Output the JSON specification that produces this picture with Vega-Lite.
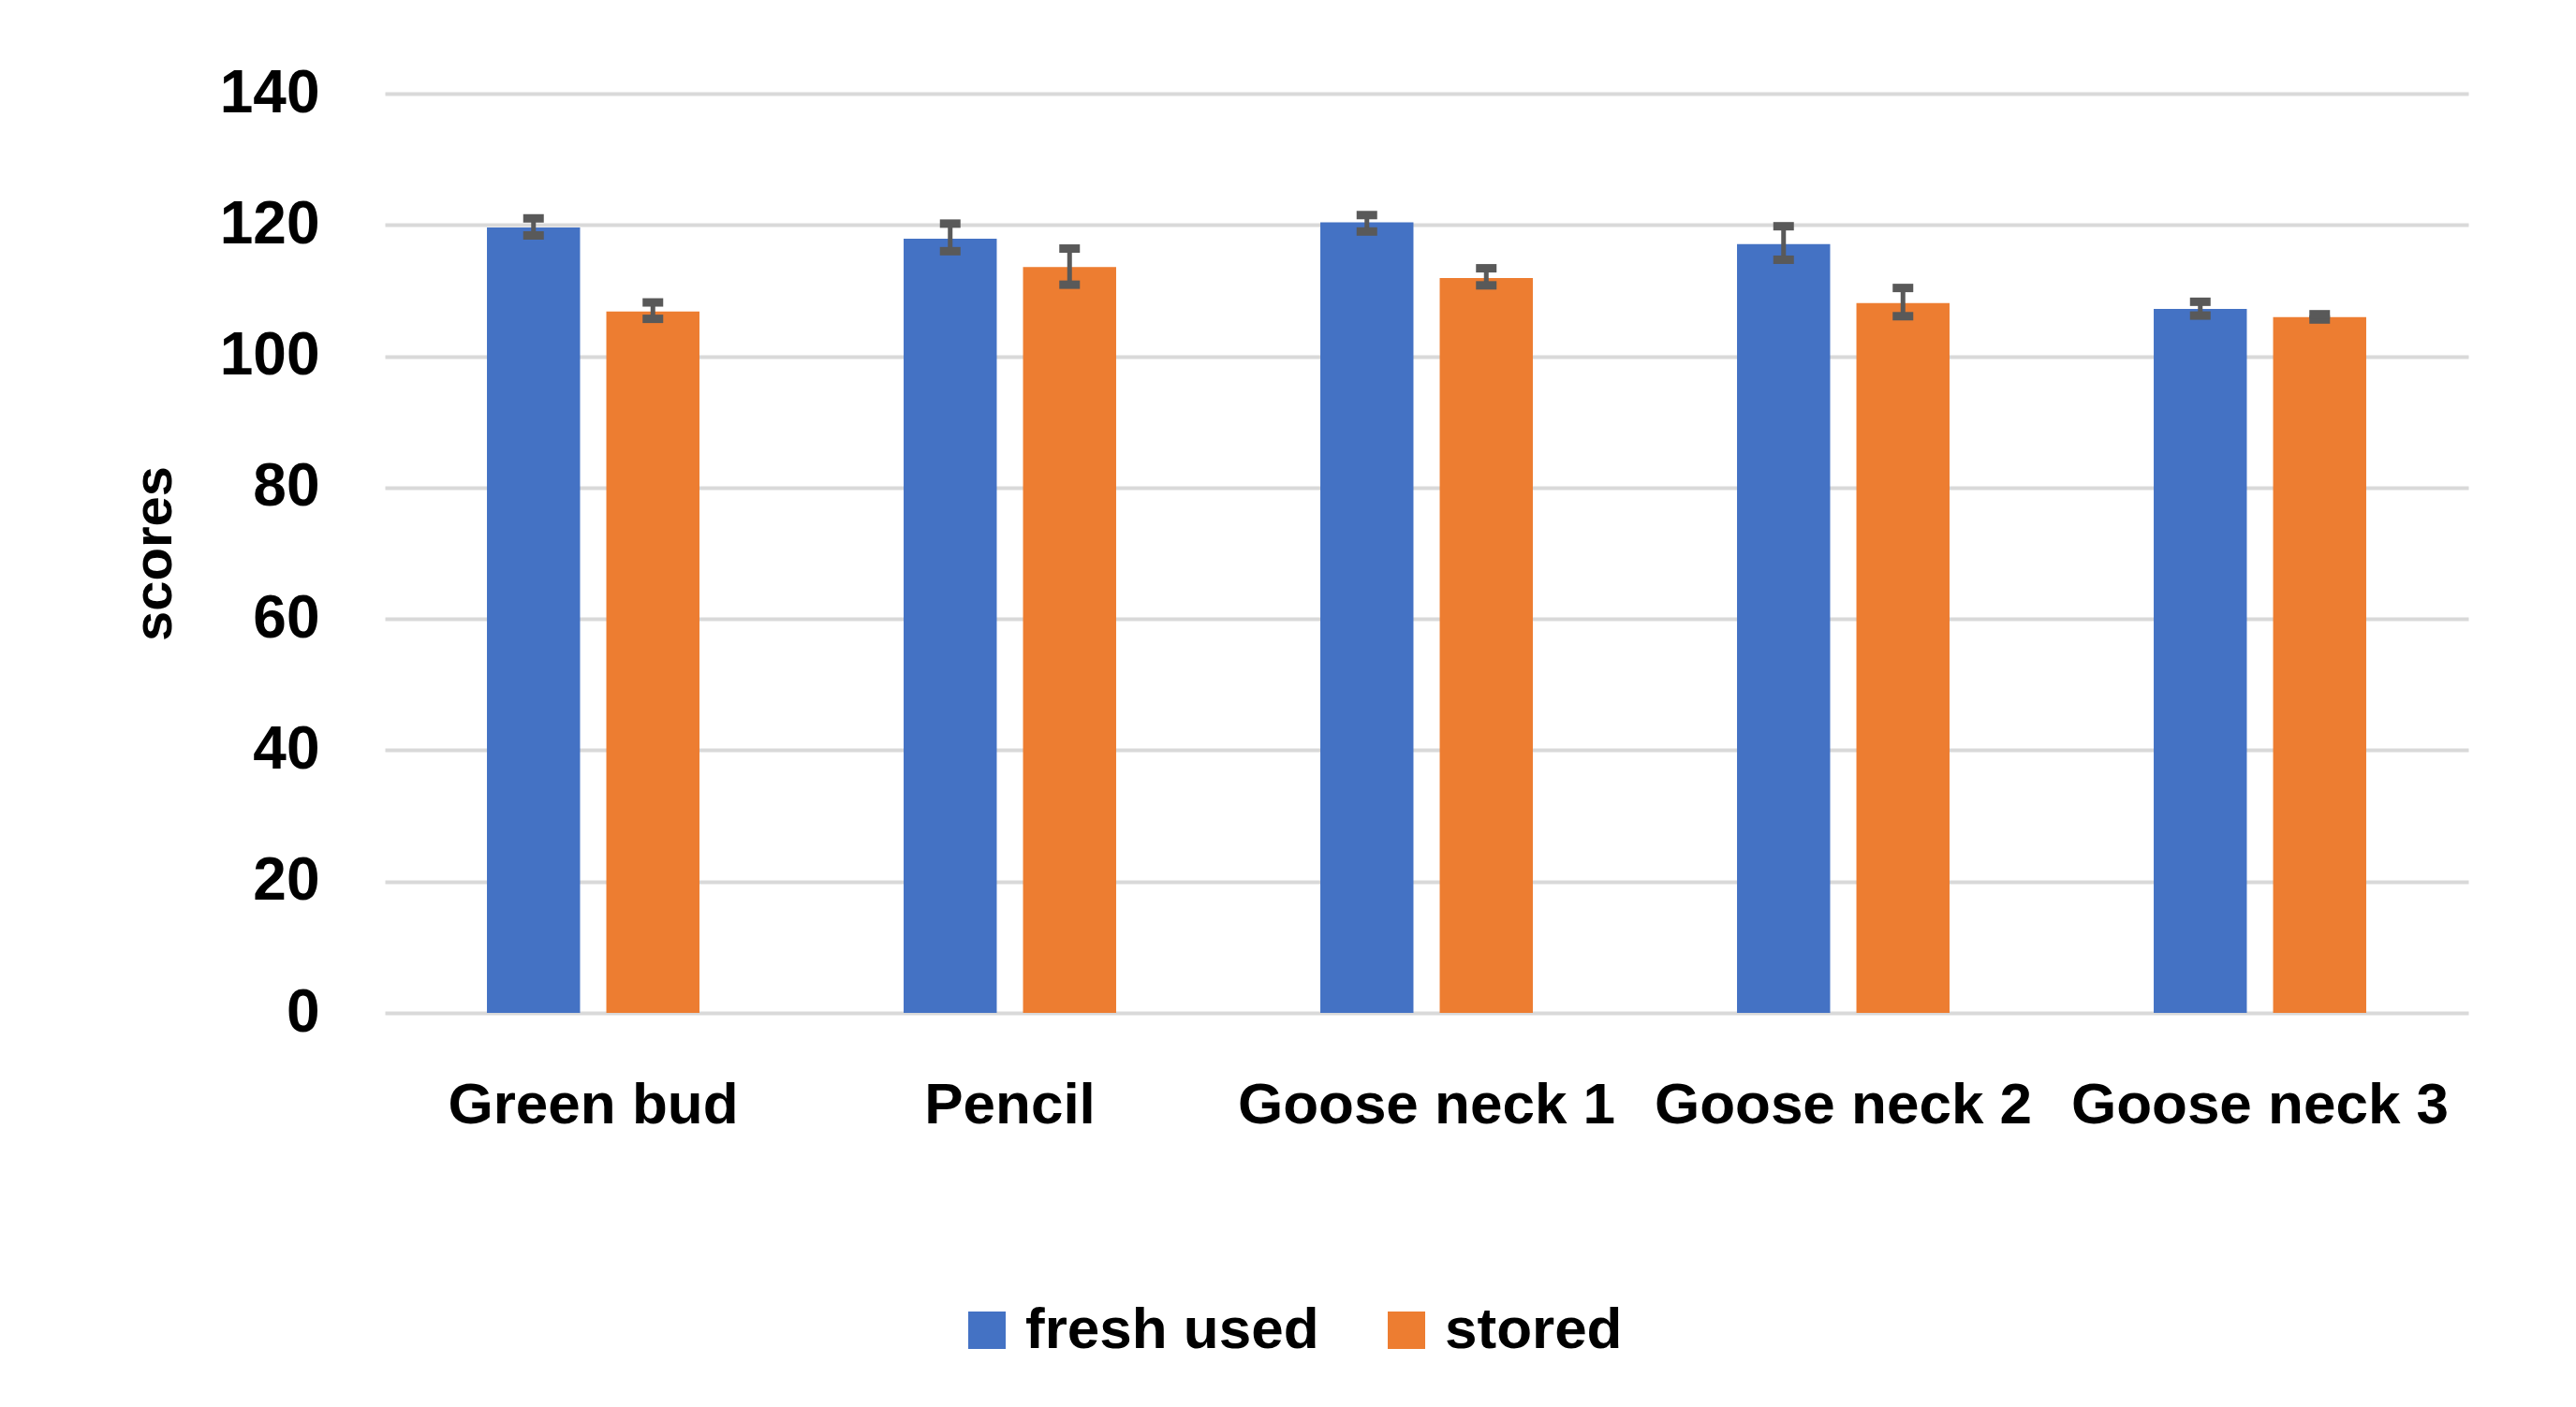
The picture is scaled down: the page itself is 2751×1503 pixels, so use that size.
{
  "$schema": "https://vega.github.io/schema/vega-lite/v6.json",
  "width": 2225,
  "height": 982,
  "autosize": {"type": "none"},
  "padding": {"left": 411, "top": 100, "right": 115, "bottom": 421},
  "background": "white",
  "config": {
    "view": {"stroke": null},
    "font": "Liberation Sans"
  },
  "data": {
    "values": [
      {"cat": "Green bud", "group": "fresh used", "value": 119.6, "lo": 118.4, "hi": 121.0},
      {"cat": "Green bud", "group": "stored", "value": 106.8, "lo": 105.7, "hi": 108.2},
      {"cat": "Pencil", "group": "fresh used", "value": 117.9, "lo": 116.0, "hi": 120.2},
      {"cat": "Pencil", "group": "stored", "value": 113.6, "lo": 110.9, "hi": 116.4},
      {"cat": "Goose neck 1", "group": "fresh used", "value": 120.4, "lo": 119.0, "hi": 121.5},
      {"cat": "Goose neck 1", "group": "stored", "value": 111.9, "lo": 110.8, "hi": 113.4},
      {"cat": "Goose neck 2", "group": "fresh used", "value": 117.1, "lo": 114.7, "hi": 119.8},
      {"cat": "Goose neck 2", "group": "stored", "value": 108.1, "lo": 106.1, "hi": 110.4},
      {"cat": "Goose neck 3", "group": "fresh used", "value": 107.2, "lo": 106.2, "hi": 108.3},
      {"cat": "Goose neck 3", "group": "stored", "value": 105.95, "lo": 105.6, "hi": 106.4}
    ]
  },
  "encoding": {
    "x": {
      "field": "cat",
      "type": "nominal",
      "sort": null,
      "scale": {"paddingInner": 0.49, "paddingOuter": 0.245},
      "axis": {
        "title": null,
        "labelAngle": 0,
        "labelFontSize": 62,
        "labelFontWeight": "bold",
        "labelColor": "#000000",
        "labelPadding": 68,
        "labelLimit": 1000,
        "ticks": false,
        "domain": false
      }
    },
    "xOffset": {
      "field": "group",
      "type": "nominal",
      "scale": {"paddingInner": 0.22, "paddingOuter": 0}
    }
  },
  "layer": [
    {
      "mark": {"type": "bar"},
      "encoding": {
        "y": {
          "field": "value",
          "type": "quantitative",
          "scale": {"domain": [0, 140], "nice": false},
          "axis": {
            "title": "scores",
            "titleFontSize": 58,
            "titleFontWeight": "bold",
            "titleColor": "#000000",
            "titlePadding": 40,
            "values": [0, 20, 40, 60, 80, 100, 120, 140],
            "labelFontSize": 64,
            "labelFontWeight": "bold",
            "labelColor": "#000000",
            "labelPadding": 70,
            "ticks": false,
            "domain": false,
            "gridColor": "#d9d9d9",
            "gridWidth": 4,
            "gridOpacity": 1
          }
        },
        "color": {
          "field": "group",
          "type": "nominal",
          "scale": {"domain": ["fresh used", "stored"], "range": ["#4472C4", "#ED7D31"]},
          "legend": {
            "title": null,
            "orient": "none",
            "direction": "horizontal",
            "legendX": 612,
            "legendY": 1290,
            "symbolType": "square",
            "symbolSize": 1600,
            "symbolStrokeWidth": 0,
            "labelFontSize": 62,
            "labelFontWeight": "bold",
            "labelColor": "#000000",
            "labelOffset": 10,
            "columnPadding": 62,
            "labelLimit": 1000
          }
        }
      }
    },
    {
      "mark": {"type": "rule", "color": "#595959", "strokeWidth": 5},
      "encoding": {
        "y": {"field": "lo", "type": "quantitative"},
        "y2": {"field": "hi"}
      }
    },
    {
      "mark": {"type": "tick", "color": "#595959", "size": 22, "thickness": 9, "opacity": 1},
      "encoding": {
        "y": {"field": "lo", "type": "quantitative"}
      }
    },
    {
      "mark": {"type": "tick", "color": "#595959", "size": 22, "thickness": 9, "opacity": 1},
      "encoding": {
        "y": {"field": "hi", "type": "quantitative"}
      }
    }
  ]
}
